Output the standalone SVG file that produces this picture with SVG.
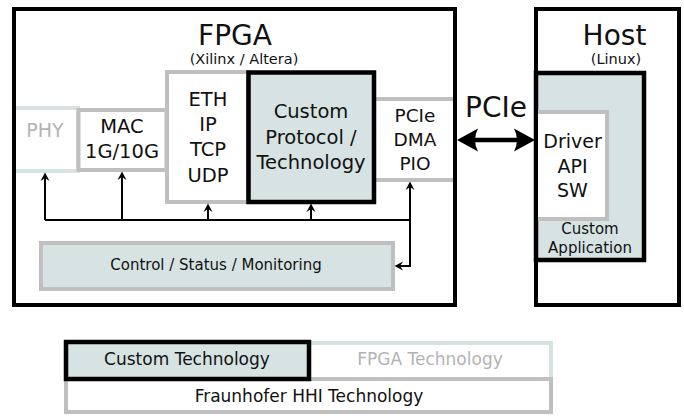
<svg xmlns="http://www.w3.org/2000/svg" width="684" height="416" viewBox="0 0 684 416">
<style>
text{font-family:"DejaVu Sans","Liberation Sans",sans-serif;fill:#111;text-anchor:middle}
.grayw{fill:#fff;stroke:#bfbfbf;stroke-width:4}
.teal{fill:#fff;stroke:#d7e3e3;stroke-width:4}
.cust{fill:#d7e3e3;stroke:#000;stroke-width:4.5}
.black{fill:none;stroke:#000;stroke-width:4}
.conn{fill:none;stroke:#000;stroke-width:2}
.t20{font-size:19.5px}
.dim{fill:#b3b3b3}
</style>
<defs>
<marker id="ah" markerUnits="userSpaceOnUse" markerWidth="10" markerHeight="10" refX="3" refY="0" viewBox="0 -5 9 10" orient="auto" overflow="visible">
<path d="M8.5,0 L0,-4.5 L3,0 L0,4.5 Z" fill="#000"/>
</marker>
</defs>
<rect x="0" y="0" width="684" height="416" fill="#fff"/>

<g id="fpga">
<g id="phy">
<rect class="teal" x="14" y="108" width="64" height="63"/>
<text x="45" y="137" style="font-size:19px" class="dim">PHY</text>
</g>
<g id="mac">
<rect class="grayw" x="78.5" y="110" width="88" height="60"/>
<text x="122" y="133" class="t20">MAC</text>
<text x="122" y="158" class="t20">1G/10G</text>
</g>
<g id="pcie">
<rect class="grayw" x="374" y="99" width="81" height="81"/>
<text x="415" y="122" style="font-size:18.5px">PCIe</text>
<text x="415" y="146" style="font-size:18.5px">DMA</text>
<text x="415" y="170" style="font-size:18.5px">PIO</text>
</g>
<g id="eth">
<rect class="grayw" x="167" y="72" width="81" height="130"/>
<text x="208" y="106" class="t20">ETH</text>
<text x="208" y="131" class="t20">IP</text>
<text x="208" y="156" class="t20">TCP</text>
<text x="208" y="182" class="t20">UDP</text>
</g>
<g id="custom-protocol">
<rect class="cust" x="248.5" y="72.5" width="125.5" height="129.5"/>
<text x="311" y="118" class="t20">Custom</text>
<text x="311" y="144" class="t20">Protocol /</text>
<text x="311" y="169" class="t20">Technology</text>
</g>
<g id="control">
<rect x="41" y="243" width="352" height="46" fill="#d7e3e3" stroke="#bfbfbf" stroke-width="4"/>
<text x="216" y="270" style="font-size:15px">Control / Status / Monitoring</text>
</g>
<rect class="black" x="14" y="9" width="441" height="296"/>
<text x="235" y="44.5" style="font-size:28px">FPGA</text>
<text x="244" y="63.5" style="font-size:14.5px">(Xilinx / Altera)</text>
</g>

<g id="host">
<rect x="536" y="9" width="143" height="296" fill="#fff" stroke="#000" stroke-width="4"/>
<text x="614.5" y="44.5" style="font-size:28px">Host</text>
<text x="616" y="64" style="font-size:14.5px">(Linux)</text>
<g id="custom-application">
<rect class="cust" x="536" y="73" width="108" height="187"/>
<text x="590" y="234" style="font-size:15px">Custom</text>
<text x="590" y="253" style="font-size:15px">Application</text>
</g>
<g id="driver">
<rect class="grayw" x="536" y="112" width="71" height="107"/>
<rect x="534" y="110" width="4" height="111" fill="#000"/>
<text x="572.5" y="148" style="font-size:19px">Driver</text>
<text x="572.5" y="173" style="font-size:19px">API</text>
<text x="572.5" y="197" style="font-size:19px">SW</text>
</g>
</g>

<g id="connectors">
<path class="conn" d="M45,220 H410"/>
<path class="conn" d="M45,220 V178" marker-end="url(#ah)"/>
<path class="conn" d="M122,220 V177" marker-end="url(#ah)"/>
<path class="conn" d="M208,220 V209" marker-end="url(#ah)"/>
<path class="conn" d="M311,220 V209" marker-end="url(#ah)"/>
<path class="conn" d="M410,266 V187" marker-end="url(#ah)"/>
<path class="conn" d="M411,266 H400" marker-end="url(#ah)"/>
<g id="pcie-link">
<path d="M470,140 H522" stroke="#000" stroke-width="4.5" fill="none"/>
<path d="M457,140 L478,128.5 Q472,140 478,151.5 Z" fill="#000"/>
<path d="M535,140 L514,128.5 Q520,140 514,151.5 Z" fill="#000"/>
<text x="496" y="117" style="font-size:28px">PCIe</text>
</g>
</g>

<g id="legend">
<g id="legend-fpga">
<rect class="teal" x="309" y="343" width="242" height="36"/>
<text x="430" y="365" style="font-size:17px" class="dim">FPGA Technology</text>
</g>
<g id="legend-hhi">
<rect class="grayw" x="66" y="379" width="485" height="33"/>
<text x="309" y="402" style="font-size:17px">Fraunhofer HHI Technology</text>
</g>
<g id="legend-custom">
<rect class="cust" x="66" y="342" width="243" height="37"/>
<text x="187" y="365" style="font-size:17px">Custom Technology</text>
</g>
</g>
</svg>
